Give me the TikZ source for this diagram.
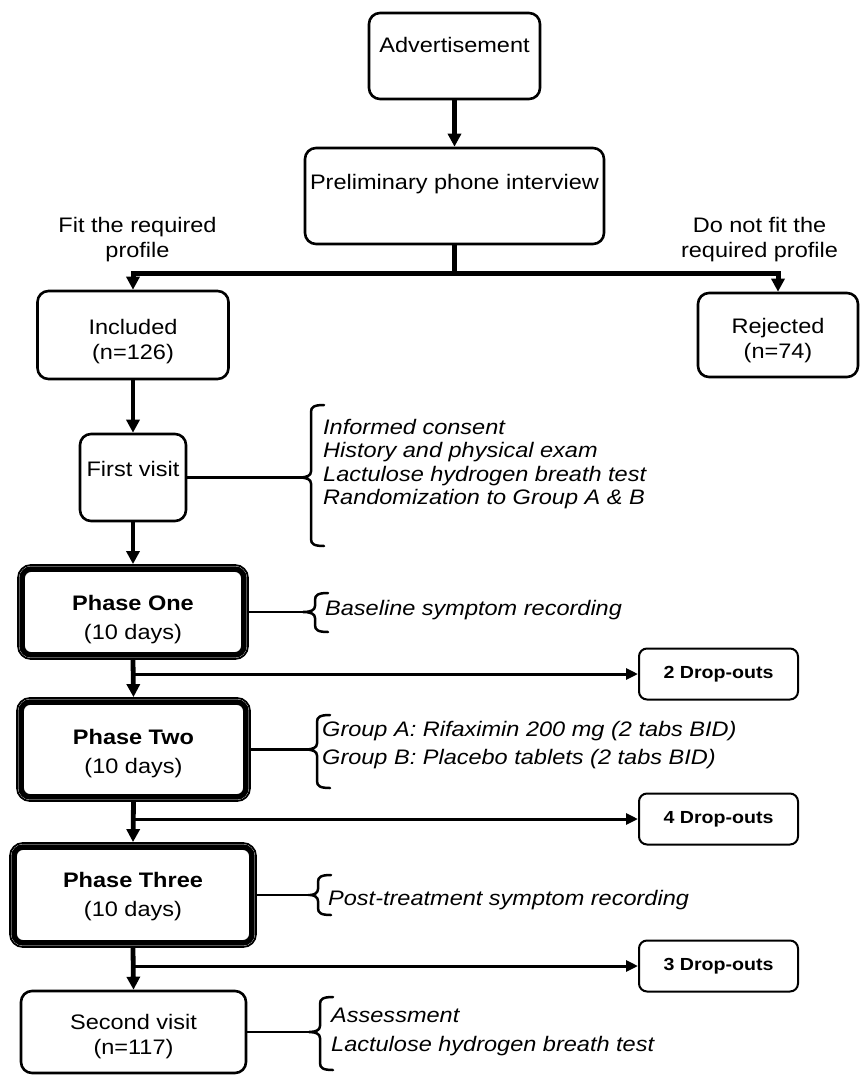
\documentclass[tikz,border=0pt]{standalone}
\usepackage{fontspec}
\setmainfont{Liberation Sans}[FakeStretch=1.12]
\usetikzlibrary{arrows.meta,calc}
\newcommand\mybrace[5]{% tipx tipy vertx top bottom
 \draw[brace] (#3+13,#4) .. controls (#3+3,#4) and (#3,#4+2) .. (#3,#4+7) -- (#3,#2-6) .. controls (#3,#2-2) and (#3-4,#2) .. (#1,#2) .. controls (#3-4,#2) and (#3,#2+2) .. (#3,#2+6) -- (#3,#5-7) .. controls (#3,#5-2) and (#3+3,#5) .. (#3+13,#5);}
\tikzset{
 box/.style={draw, line width=2.6pt, rounded corners=11pt, inner sep=0pt},
 phase/.style={draw, line width=1.8pt, rounded corners=13pt, inner sep=0pt},
 inner/.style={line width=5.5pt, rounded corners=9pt},
 dobox/.style={draw, line width=2pt, rounded corners=8pt, minimum width=159pt, minimum height=51pt,
   inner sep=0pt, font=\fontsize{17.5pt}{20pt}\selectfont\bfseries},
 arr/.style={line width=4.8pt, -{Triangle[length=13pt,width=13pt]}},
 darr/.style={line width=3pt, -{Triangle[length=12pt,width=11pt]}},
 conn/.style={line width=2.5pt},
 brace/.style={line width=2.5pt, line cap=round},
 lbl/.style={inner sep=0pt, align=center},
 plbl/.style={inner sep=0pt, align=center, font=\fontsize{21pt}{29pt}\selectfont},
 note/.style={inner sep=0pt, align=left, anchor=west, font=\fontsize{21pt}{23.5pt}\selectfont\itshape}
}
\begin{document}
\begin{tikzpicture}[x=1pt, y=-1pt, font=\fontsize{21pt}{25pt}\selectfont]
\useasboundingbox (0,0) rectangle (863,1075);
% boxes
\node[box, minimum width=171pt, minimum height=86pt] (adv) at (454.5,56) {};
\node[lbl] (advt) at (454.5,45) {Advertisement};
\node[box, minimum width=299pt, minimum height=96pt] (prelim) at (454.5,196) {};
\node[lbl] (prelimt) at (454.5,184) {Preliminary phone interview};
\node[box, minimum width=191pt, minimum height=88pt] (inc) at (133,335) {};
\node[lbl] (inct) at (133,341.5) {Included\\(n=126)};
\node[box, minimum width=160pt, minimum height=84pt] (rej) at (778,335) {};
\node[lbl] (rejt) at (778,340.5) {Rejected\\(n=74)};
\node[lbl] (fit) at (137.5,240) {Fit the required\\profile};
\node[lbl] (nofit) at (759.5,240) {Do not fit the\\required profile};
\node[box, minimum width=106pt, minimum height=87pt] (fv) at (133,477.5) {};
\node[lbl] (fvt) at (133,469) {First visit};
\node[phase, minimum width=230pt, minimum height=94pt] (p1) at (133,612) {};
\node[plbl] (p1t) at (133,619.5) {\textbf{Phase One}\\(10 days)};
\node[phase, minimum width=233pt, minimum height=103pt] (p2) at (133.5,749.5) {};
\node[plbl] (p2t) at (133.5,754) {\textbf{Phase Two}\\(10 days)};
\node[phase, minimum width=246pt, minimum height=104pt] (p3) at (133,895) {};
\node[plbl] (p3t) at (133,896.5) {\textbf{Phase Three}\\(10 days)};
\foreach \p in {p1,p2,p3}
  \draw[inner] ([shift={(5pt,-5pt)}]\p.north west) rectangle ([shift={(-5pt,5pt)}]\p.south east);
\node[box, minimum width=225pt, minimum height=82pt] (sv) at (133.5,1032) {};
\node[lbl] (svt) at (133.5,1037) {Second visit\\(n=117)};
\node[dobox] (do1) at (718.5,674) {2 Drop-outs};
\node[dobox] (do2) at (718.5,819) {4 Drop-outs};
\node[dobox] (do3) at (718.5,966) {3 Drop-outs};
% main flow
\coordinate (split) at (454.5,273);
\draw[arr] (adv.south) -- (prelim.north);
\draw[line width=4.8pt] (prelim.south) -- (split);
\draw[line width=5pt, {Triangle[length=13pt,width=13pt]}-{Triangle[length=13pt,width=13pt]}, line join=miter]
  (inc.north) -- (inc.north |- split) -- (rej.north |- split) -- (rej.north);
\draw[arr] (inc.south) -- (fv.north);
\draw[arr] (fv.south) -- (p1.north);
\draw[arr] (p1.south) -- (p2.north);
\draw[arr] (p2.south) -- (p3.north);
\draw[arr] (p3.south) -- (sv.north);
% drop-outs
\coordinate (d1) at (133,674);
\coordinate (d2) at (133,819);
\coordinate (d3) at (133,966);
\draw[darr] (d1) -- (do1.west);
\draw[darr] (d2) -- (do2.west);
\draw[darr] (d3) -- (do3.west);
% braces and notes
\coordinate (b1) at (299,477.5);
\coordinate (b2) at (303,612);
\coordinate (b3) at (305,749.5);
\coordinate (b4) at (310,895);
\coordinate (b5) at (309,1032);
\draw[conn] (fv.east) -- (b1);
\draw[conn] (p1.east) -- (b2);
\draw[conn] (p2.east) -- (b3);
\draw[conn] (p3.east) -- (b4);
\draw[conn] (sv.east) -- (b5);
\mybrace{299}{477.5}{311}{405}{546}
\mybrace{303}{612}{315}{593}{632}
\mybrace{305}{749.5}{317}{715}{788}
\mybrace{310}{895}{318}{875}{915}
\mybrace{309}{1032}{320}{997}{1070}
\node[note] (n1) at (323,464) {Informed consent\\History and physical exam\\Lactulose hydrogen breath test\\Randomization to Group A \& B};
\node[note] (n2) at (325,610) {Baseline symptom recording};
\node[note, font=\fontsize{21pt}{28.5pt}\selectfont\itshape] (n3) at (322,745) {Group A: Rifaximin 200 mg (2 tabs BID)\\Group B: Placebo tablets (2 tabs BID)};
\node[note] (n4) at (328,900) {Post-treatment symptom recording};
\node[note, font=\fontsize{21pt}{29pt}\selectfont\itshape] (n5) at (331,1032) {Assessment\\Lactulose hydrogen breath test};
\end{tikzpicture}
\end{document}
